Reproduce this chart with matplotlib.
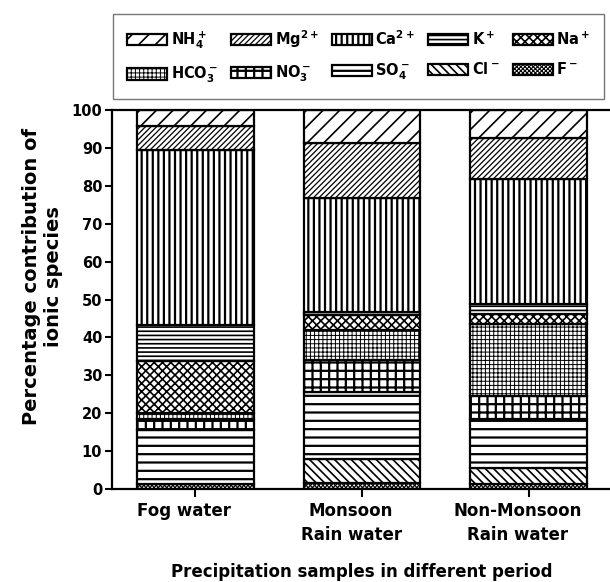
import matplotlib
matplotlib.use("Agg")
import matplotlib.pyplot as plt
import numpy as np

plt.rcParams["font.family"] = ["DejaVu Sans"]
plt.rcParams["font.weight"] = "bold"
plt.rcParams["mathtext.fontset"] = "dejavusans"
plt.rcParams["mathtext.default"] = "bf"
plt.rcParams["hatch.linewidth"] = 1.2

# samples on the x axis
samples = ["Fog water", "Monsoon\nRain water", "Non-Monsoon\nRain water"]

# ionic species, bottom of the stack first
species = [r"F$^-$", r"Cl$^-$", r"SO$_4^-$", r"NO$_3^-$", r"HCO$_3^-$",
           r"Na$^+$", r"K$^+$", r"Ca$^{2+}$", r"Mg$^{2+}$", r"NH$_4^+$"]
hatches = ["xxxxxxxx", "\\\\\\\\", "--", "++", "++++", "xxxx", "----", "|||", "//////", "//"]
hatch_lw = [0.8, 1.2, 1.6, 1.6, 0.7, 1.2, 1.2, 1.6, 0.9, 1.2]

# percentage contribution (bottom -> top)
fog_water = [1.3, 0.0, 14.3, 2.9, 1.5, 13.9, 9.3, 46.3, 6.2, 4.3]
monsoon_rain = [1.5, 6.4, 17.8, 8.4, 7.9, 4.0, 0.8, 30.1, 14.4, 8.7]
non_monsoon_rain = [1.2, 4.4, 12.8, 6.2, 19.0, 2.7, 2.4, 33.0, 10.9, 7.4]

data = np.array([fog_water, monsoon_rain, non_monsoon_rain])

fig = plt.figure(figsize=(6.1, 5.82), dpi=100)
ax = fig.add_axes([112 / 610, 93 / 582, 500 / 610, 379 / 582])

x = np.arange(len(samples))
bottom = np.zeros(len(samples))
handles = []
for i, name in enumerate(species):
    with plt.rc_context({"hatch.linewidth": hatch_lw[i]}):
        b = ax.bar(x, data[:, i], 0.7, bottom=bottom, color="white",
                   edgecolor="black", linewidth=1.6, hatch=hatches[i], label=name)
    for p in b.patches:
        if hasattr(p, "set_hatch_linewidth"):
            p.set_hatch_linewidth(hatch_lw[i])
    handles.append(b)
    bottom += data[:, i]

ax.set_xlim(-0.5, 2.5)
ax.set_ylim(0, 100)
ax.set_yticks(range(0, 101, 10))
# tick marks at bar centres, labels sit a little left of them (minor ticks)
ax.set_xticks(x, [""] * len(x))
ax.set_xticks(x - 0.065, samples, minor=True, fontsize=12, fontweight="bold",
              linespacing=1.45)
ax.tick_params(axis="y", labelsize=10.5, direction="out", length=5, width=1.5, pad=2)
ax.tick_params(axis="x", which="major", direction="out", length=6, width=1.5)
ax.tick_params(axis="x", which="minor", length=0, pad=9)
for sp in ax.spines.values():
    sp.set_linewidth(1.6)

ax.set_ylabel("Percentage contribution of\nionic species", fontsize=14,
              fontweight="bold")
ax.yaxis.set_label_coords(-0.098, 0.56)
ax.set_xlabel("Precipitation samples in different period", fontsize=12,
              fontweight="bold")
ax.xaxis.set_label_coords(0.5, -0.195)

# legend: two rows, filled row by row like the reference
rows = [[9, 8, 7, 6, 5], [4, 3, 2, 1, 0]]
order = [k for pair in zip(rows[0], rows[1]) for k in pair]
leg = fig.legend([handles[k] for k in order], [species[k] for k in order],
                 ncol=5, loc="upper left",
                 bbox_to_anchor=(113 / 610, 1 - 14 / 582),
                 fontsize=10.5, frameon=True, fancybox=False, edgecolor="#555555",
                 handlelength=2.75, handleheight=0.85, handletextpad=0.25,
                 columnspacing=0.9, borderaxespad=0.0, borderpad=0.95,
                 labelspacing=0.95)
leg.get_frame().set_linewidth(1.0)
for h, k in zip(leg.legend_handles, order):
    if hasattr(h, "set_hatch_linewidth"):
        h.set_hatch_linewidth(hatch_lw[k])

fig.savefig("out.png", dpi=100)
